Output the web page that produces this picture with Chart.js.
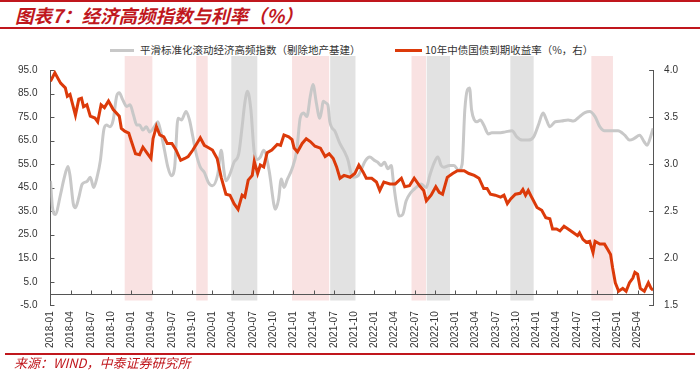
<!DOCTYPE html>
<html>
<head>
<meta charset="utf-8">
<script src="https://cdn.jsdelivr.net/npm/chart.js@4.4.1/dist/chart.umd.min.js"></script>
<style>
  body { margin: 0; background: #fff; }
  #wrap { position: relative; width: 700px; height: 373px; overflow: hidden; font-family: "Noto Sans CJK SC", sans-serif; }
  #chart { position: absolute; left: 0; top: 0; }
  .rule { position: absolute; background: #c0171d; }
  #title { position: absolute; left: 15px; top: 3px; font-size: 18.5px; line-height: 24px; font-style: italic; font-weight: bold; color: #c0171d; white-space: nowrap; }
  .swatch { position: absolute; height: 3px; top: 49px; }
  .ltext { position: absolute; top: 42px; font-size: 10.5px; line-height: 16px; color: #333; white-space: nowrap; }
  #source { position: absolute; left: 14px; top: 354px; font-size: 13px; line-height: 18px; font-style: italic; color: #c0171d; white-space: nowrap; }
</style>
</head>
<body>
<div id="wrap">
  <div class="rule" style="left:0;top:0;width:700px;height:2px"></div>
  <div id="title">图表7：经济高频指数与利率（%）</div>
  <div class="rule" style="left:0;top:27px;width:700px;height:1.5px"></div>

  <div class="swatch" style="left:110px;width:24px;background:#c8c8c8"></div>
  <div class="ltext" style="left:140px">平滑标准化滚动经济高频指数（剔除地产基建）</div>
  <div class="swatch" style="left:395px;width:27px;background:#dc3a0a"></div>
  <div class="ltext" style="left:425px">10年中债国债到期收益率（%，右）</div>

  <canvas id="chart" width="700" height="373"></canvas>

  <div class="rule" style="left:5px;top:353px;width:690px;height:1.5px"></div>
  <div id="source">来源：WIND，中泰证券研究所</div>
</div>

<script>
// x values are months counted from 2018-01
const quarterLabels = [
  '2018-01', '2018-04', '2018-07', '2018-10', '2019-01', '2019-04', '2019-07', '2019-10',
  '2020-01', '2020-04', '2020-07', '2020-10', '2021-01', '2021-04', '2021-07', '2021-10',
  '2022-01', '2022-04', '2022-07', '2022-10', '2023-01', '2023-04', '2023-07', '2023-10',
  '2024-01', '2024-04', '2024-07', '2024-10', '2025-01', '2025-04'
];

// 平滑标准化滚动经济高频指数 (left axis)
const indexSeries = [
  [0, 47.9], [0.3, 36.5], [0.7, 33.6], [1.5, 42.2], [2.0, 48.7], [2.6, 54.0], [2.9, 50.1], [3.4, 37.9],
  [3.7, 36.5], [4.2, 40.8], [4.7, 46.5], [5.4, 47.6], [5.9, 49.4], [6.4, 45.1], [6.9, 49.4], [7.4, 56.6],
  [7.9, 69.5], [8.3, 71.6], [8.8, 70.9], [9.3, 73.8], [9.8, 83.8], [10.2, 85.3], [10.7, 82.4], [11.3, 79.5],
  [11.8, 80.2], [12.3, 75.9], [12.8, 71.6], [13.2, 71.6], [13.7, 69.5], [14.2, 70.9], [14.7, 68.7], [15.4, 70.9],
  [15.9, 73.0], [16.4, 68.1], [16.9, 60.9], [17.4, 53.7], [17.9, 50.1], [18.4, 53.7], [18.9, 74.5], [19.4, 73.8],
  [20.1, 77.4], [20.6, 73.8], [21.1, 66.6], [21.6, 59.4], [22.2, 53.7], [22.8, 51.5], [23.4, 47.2], [24.0, 45.8],
  [24.8, 50.8], [25.3, 60.9], [25.7, 52.3], [26.0, 47.9], [26.6, 50.8], [27.2, 55.8], [27.9, 59.4], [28.4, 70.9],
  [28.8, 81.0], [29.2, 86.0], [29.7, 78.1], [30.2, 60.0], [30.7, 57.0], [31.1, 58.0], [31.6, 60.9], [32.4, 52.3],
  [33.1, 37.9], [33.3, 35.8], [33.8, 40.0], [34.2, 48.7], [34.6, 45.1], [35.1, 48.5], [35.8, 53.0], [36.5, 60.9],
  [37.0, 74.5], [37.5, 76.7], [38.0, 75.2], [38.5, 83.8], [38.9, 88.8], [39.4, 81.0], [39.9, 74.5], [40.2, 78.1],
  [40.4, 81.7], [40.8, 81.0], [41.1, 80.2], [41.4, 73.0], [42.2, 68.7], [42.9, 63.7], [43.6, 60.1], [44.1, 56.6],
  [44.5, 51.5], [44.9, 49.4], [45.6, 50.1], [46.1, 53.0], [46.7, 56.6], [47.3, 58.0], [48.0, 56.6], [48.5, 55.8],
  [49.0, 54.4], [49.5, 55.8], [50.0, 53.0], [50.5, 54.4], [50.8, 47.9], [51.2, 39.3], [51.7, 32.9], [52.2, 33.6],
  [52.7, 39.3], [53.4, 42.9], [54.2, 45.1], [54.9, 46.5], [55.7, 45.1], [56.2, 50.1], [56.9, 55.8], [57.4, 58.0],
  [57.9, 54.4], [58.3, 53.7], [59.1, 54.4], [59.8, 54.4], [60.5, 52.3], [61.0, 55.0], [61.4, 78.1], [61.8, 86.7],
  [62.1, 87.4], [62.4, 78.1], [62.8, 73.8], [63.2, 73.0], [63.7, 73.8], [64.2, 71.6], [64.9, 67.8], [65.4, 68.3],
  [66.4, 68.3], [67.4, 68.7], [68.4, 69.2], [69.1, 66.6], [69.9, 65.2], [70.8, 65.2], [71.6, 66.6], [72.3, 71.6],
  [73.0, 76.7], [73.5, 73.8], [74.0, 70.9], [74.8, 73.0], [75.7, 73.3], [76.7, 73.8], [77.5, 73.3], [78.4, 75.2],
  [79.2, 76.9], [79.9, 77.4], [80.7, 75.2], [81.4, 70.9], [82.1, 69.2], [83.1, 69.2], [84.1, 69.2], [85.1, 67.3],
  [85.8, 65.2], [86.5, 65.9], [87.3, 67.3], [88.0, 64.4], [88.4, 63.0], [89.0, 67.3], [89.3, 70.2]
];

// 10年中债国债到期收益率 (right axis, %)
const yieldSeries = [
  [0, 3.88], [0.65, 3.97], [1.5, 3.86], [2.2, 3.81], [2.5, 3.72], [2.9, 3.74], [3.7, 3.52], [4.2, 3.69],
  [4.6, 3.70], [4.9, 3.61], [5.4, 3.63], [5.9, 3.51], [6.6, 3.49], [7.0, 3.45], [7.5, 3.63], [8.0, 3.60],
  [8.6, 3.67], [9.3, 3.58], [10.2, 3.51], [10.5, 3.38], [11.0, 3.35], [11.6, 3.33], [12.0, 3.24], [12.6, 3.11],
  [13.2, 3.10], [13.7, 3.18], [14.4, 3.11], [14.9, 3.06], [15.2, 3.27], [15.7, 3.40], [16.2, 3.31], [16.8, 3.29],
  [17.3, 3.22], [18.0, 3.22], [18.6, 3.15], [19.3, 3.04], [19.9, 3.06], [20.4, 3.08], [21.1, 3.15], [21.7, 3.22],
  [22.2, 3.28], [22.8, 3.20], [23.3, 3.18], [24.0, 3.15], [24.7, 3.06], [25.3, 2.86], [26.0, 2.68], [26.6, 2.67],
  [27.2, 2.58], [27.8, 2.52], [28.4, 2.67], [28.8, 2.65], [29.3, 2.83], [29.9, 2.88], [30.2, 3.03], [30.7, 2.90],
  [31.1, 2.99], [31.6, 2.97], [32.1, 3.12], [32.8, 3.15], [33.6, 3.21], [34.1, 3.20], [34.6, 3.31], [35.3, 3.29],
  [35.8, 3.26], [36.1, 3.17], [36.6, 3.13], [37.3, 3.22], [37.9, 3.27], [38.5, 3.24], [39.2, 3.19], [40.0, 3.17],
  [40.7, 3.08], [41.3, 3.11], [41.9, 3.06], [42.4, 2.97], [42.9, 2.85], [43.5, 2.88], [44.4, 2.86], [45.1, 2.90],
  [45.7, 2.99], [46.3, 2.92], [46.8, 2.85], [47.6, 2.85], [48.3, 2.81], [48.8, 2.72], [49.4, 2.81], [50.3, 2.79],
  [51.1, 2.79], [52.0, 2.85], [52.5, 2.76], [53.2, 2.77], [53.9, 2.85], [54.7, 2.77], [55.3, 2.72], [55.7, 2.61],
  [56.4, 2.67], [57.1, 2.76], [57.6, 2.70], [58.1, 2.68], [58.8, 2.86], [59.6, 2.90], [60.3, 2.93], [61.3, 2.93],
  [62.0, 2.90], [62.8, 2.88], [63.5, 2.85], [64.2, 2.74], [64.7, 2.74], [65.2, 2.68], [65.9, 2.67], [66.7, 2.65],
  [67.2, 2.67], [67.7, 2.58], [68.2, 2.63], [68.9, 2.68], [69.6, 2.69], [70.0, 2.73], [70.4, 2.67], [70.8, 2.72],
  [71.3, 2.65], [72.1, 2.54], [72.8, 2.51], [73.4, 2.43], [74.0, 2.42], [74.4, 2.31], [75.0, 2.31], [75.5, 2.29],
  [76.1, 2.34], [76.7, 2.31], [77.5, 2.27], [78.1, 2.24], [78.4, 2.27], [78.9, 2.20], [79.4, 2.17], [79.9, 2.18],
  [80.4, 2.06], [80.7, 2.18], [81.4, 2.15], [82.1, 2.15], [82.6, 2.09], [83.0, 2.04], [83.3, 1.90], [83.7, 1.74],
  [84.2, 1.65], [84.8, 1.68], [85.3, 1.65], [85.8, 1.74], [86.3, 1.79], [86.6, 1.85], [87.0, 1.83], [87.4, 1.68],
  [88.0, 1.65], [88.6, 1.74], [89.0, 1.68], [89.3, 1.66]
];

// shaded periods, [start, end] in months
const pinkBands = [[11.0, 15.1], [21.6, 23.3], [35.8, 41.3], [53.5, 55.65], [80.15, 83.35]];
const greyBands = [[26.8, 30.65], [41.45, 45.2], [55.75, 59.2], [68.15, 71.6]];

const axisFont = { family: 'Liberation Sans, Arial, sans-serif', size: 10 };

// bands, the zero line of the left axis and inward tick marks
const decor = {
  id: 'decor',
  beforeDatasetsDraw(chart) {
    const { ctx, chartArea, scales } = chart;
    const x = scales.x, yL = scales.y, yR = scales.y1;
    const zeroY = Math.round(yL.getPixelForValue(0)) + 0.5;
    const top = chartArea.top - 14, bottom = zeroY + 6;
    ctx.save();
    const fillBands = (list, color) => {
      ctx.fillStyle = color;
      list.forEach(([s, e]) => {
        const a = x.getPixelForValue(s), b = x.getPixelForValue(e);
        ctx.fillRect(a, top, b - a, bottom - top);
      });
    };
    fillBands(pinkBands, 'rgb(249,226,226)');
    fillBands(greyBands, 'rgb(226,226,226)');

    ctx.strokeStyle = '#555';
    ctx.lineWidth = 1;
    ctx.beginPath();
    ctx.moveTo(chartArea.left, zeroY);
    ctx.lineTo(chartArea.right, zeroY);
    x.ticks.forEach(t => {
      const px = Math.round(x.getPixelForValue(t.value)) + 0.5;
      ctx.moveTo(px, zeroY);
      ctx.lineTo(px, zeroY - 4);
    });
    yL.ticks.forEach(t => {
      const py = Math.round(yL.getPixelForValue(t.value)) + 0.5;
      ctx.moveTo(chartArea.left, py);
      ctx.lineTo(chartArea.left + 4, py);
    });
    yR.ticks.forEach(t => {
      const py = Math.round(yR.getPixelForValue(t.value)) + 0.5;
      ctx.moveTo(chartArea.right, py);
      ctx.lineTo(chartArea.right - 4, py);
    });
    ctx.stroke();
    ctx.restore();
  }
};

new Chart(document.getElementById('chart'), {
  type: 'line',
  data: {
    datasets: [{
      label: '平滑标准化滚动经济高频指数（剔除地产基建）',
      data: indexSeries.map(([m, v]) => ({ x: m, y: v })),
      yAxisID: 'y',
      borderColor: '#c8c8c8',
      borderWidth: 3,
      pointRadius: 0,
      cubicInterpolationMode: 'monotone',
      order: 2
    }, {
      label: '10年中债国债到期收益率（%，右）',
      data: yieldSeries.map(([m, v]) => ({ x: m, y: v })),
      yAxisID: 'y1',
      borderColor: '#dc3a0a',
      borderWidth: 3,
      pointRadius: 0,
      tension: 0,
      order: 1
    }]
  },
  options: {
    responsive: false,
    devicePixelRatio: 1,
    animation: false,
    layout: { padding: { top: 70, left: 5, right: 11, bottom: 19 } },
    plugins: { legend: { display: false }, tooltip: { enabled: false } },
    scales: {
      x: {
        type: 'linear',
        min: 0,
        max: 89.3,
        grid: { display: false, drawTicks: false },
        border: { display: false },
        ticks: {
          stepSize: 3,
          includeBounds: false,
          autoSkip: false,
          minRotation: 90,
          maxRotation: 90,
          padding: 6,
          color: '#333',
          font: axisFont,
          callback: v => quarterLabels[v / 3] || ''
        }
      },
      y: {
        position: 'left',
        min: -5,
        max: 95,
        grid: { display: false, drawTicks: false },
        border: { display: true, color: '#555', width: 1 },
        ticks: { stepSize: 10, padding: 13, color: '#333', font: axisFont, callback: v => v.toFixed(1) }
      },
      y1: {
        position: 'right',
        min: 1.5,
        max: 4.0,
        grid: { display: false, drawTicks: false },
        border: { display: true, color: '#555', width: 1 },
        ticks: { stepSize: 0.5, padding: 11, color: '#333', font: axisFont, callback: v => v.toFixed(1) }
      }
    }
  },
  plugins: [decor]
});
</script>
</body>
</html>
